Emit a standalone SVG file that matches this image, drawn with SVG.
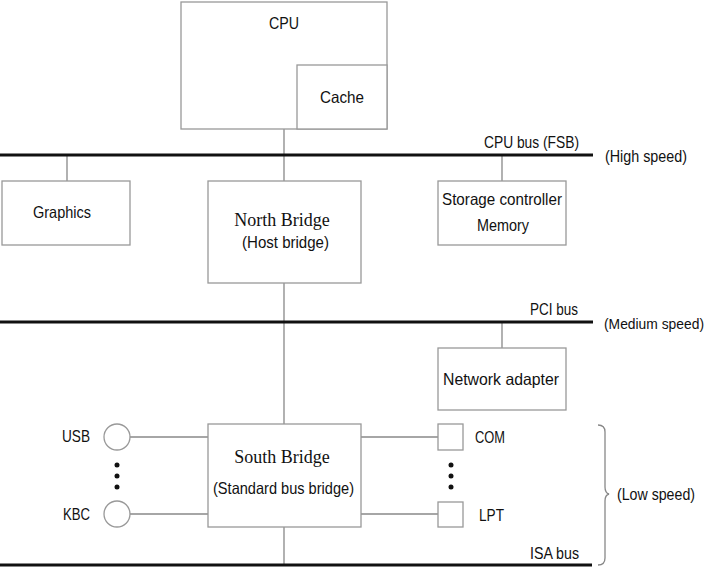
<svg xmlns="http://www.w3.org/2000/svg" width="710" height="569" viewBox="0 0 710 569">
<style>
.box{fill:#fff;stroke:#999;stroke-width:1.3}
.con{stroke:#888;stroke-width:1.3;fill:none}
.bus{stroke:#111;stroke-width:3;fill:none}
.t{font-family:"Liberation Sans",Arial,sans-serif;font-size:16.5px;fill:#111}
.s{font-family:"Liberation Serif","Times New Roman",serif;font-size:18px;fill:#111}
.m{text-anchor:middle}
.e{text-anchor:end}
</style>
<rect width="710" height="569" fill="#fff"/>
<g id="connectors">
<line class="con" x1="284" y1="129" x2="284" y2="181"/>
<line class="con" x1="67" y1="155" x2="67" y2="181"/>
<line class="con" x1="502" y1="155" x2="502" y2="181"/>
<line class="con" x1="284" y1="283" x2="284" y2="424"/>
<line class="con" x1="502" y1="322" x2="502" y2="348"/>
<line class="con" x1="284" y1="527" x2="284" y2="565"/>
<line class="con" x1="130" y1="437" x2="208" y2="437"/>
<line class="con" x1="130" y1="514" x2="208" y2="514"/>
<line class="con" x1="361" y1="437" x2="438" y2="437"/>
<line class="con" x1="361" y1="514" x2="438" y2="514"/>
</g>
<g id="buses">
<line class="bus" x1="0" y1="155" x2="593" y2="155"/>
<line class="bus" x1="0" y1="322" x2="593" y2="322"/>
<line class="bus" x1="0" y1="565" x2="592" y2="565"/>
<text class="t" x="484" y="148" textLength="95" lengthAdjust="spacingAndGlyphs">CPU bus (FSB)</text>
<text class="t" x="605" y="162" textLength="82" lengthAdjust="spacingAndGlyphs">(High speed)</text>
<text class="t" x="530" y="315" textLength="48" lengthAdjust="spacingAndGlyphs">PCI bus</text>
<text class="t" x="604" y="329" style="font-size:14.5px" textLength="100" lengthAdjust="spacingAndGlyphs">(Medium speed)</text>
<text class="t" x="530" y="559" textLength="49" lengthAdjust="spacingAndGlyphs">ISA bus</text>
</g>
<g id="cpu">
<rect class="box" x="181" y="2" width="206" height="127"/>
<text class="t" x="269" y="29" textLength="30" lengthAdjust="spacingAndGlyphs">CPU</text>
</g>
<g id="cache">
<rect class="box" x="297" y="65" width="90" height="64"/>
<text class="t" x="320" y="103" textLength="44" lengthAdjust="spacingAndGlyphs">Cache</text>
</g>
<g id="graphics">
<rect class="box" x="2" y="181" width="128" height="64"/>
<text class="t" x="33" y="218" textLength="58" lengthAdjust="spacingAndGlyphs">Graphics</text>
</g>
<g id="northbridge">
<rect class="box" x="208" y="181" width="153" height="102"/>
<text class="s m" x="282" y="226">North Bridge</text>
<text class="t" x="242" y="248" textLength="87" lengthAdjust="spacingAndGlyphs">(Host bridge)</text>
</g>
<g id="storage">
<rect class="box" x="438" y="181" width="128" height="64"/>
<text class="t" x="442" y="205" textLength="120" lengthAdjust="spacingAndGlyphs">Storage controller</text>
<text class="t" x="477" y="231" textLength="52" lengthAdjust="spacingAndGlyphs">Memory</text>
</g>
<g id="network">
<rect class="box" x="438" y="348" width="128" height="62"/>
<text class="t" x="443" y="385" textLength="116" lengthAdjust="spacingAndGlyphs">Network adapter</text>
</g>
<g id="southbridge">
<rect class="box" x="208" y="424" width="153" height="103"/>
<text class="s m" x="282" y="463">South Bridge</text>
<text class="t" x="213" y="494" textLength="141" lengthAdjust="spacingAndGlyphs">(Standard bus bridge)</text>
</g>
<g id="usb">
<circle class="box" cx="117" cy="437" r="13"/>
<text class="t" x="62" y="442" textLength="28" lengthAdjust="spacingAndGlyphs">USB</text>
</g>
<g id="kbc">
<circle class="box" cx="117" cy="514" r="13"/>
<text class="t" x="63" y="520" textLength="27" lengthAdjust="spacingAndGlyphs">KBC</text>
</g>
<g id="dots-left" fill="#111">
<circle cx="117" cy="465" r="2.5"/>
<circle cx="117" cy="476" r="2.5"/>
<circle cx="117" cy="487" r="2.5"/>
</g>
<g id="com">
<rect class="box" x="438" y="424" width="25" height="26"/>
<text class="t" x="475" y="443" textLength="30" lengthAdjust="spacingAndGlyphs">COM</text>
</g>
<g id="lpt">
<rect class="box" x="438" y="502" width="25" height="25"/>
<text class="t" x="479" y="521" textLength="25" lengthAdjust="spacingAndGlyphs">LPT</text>
</g>
<g id="dots-right" fill="#111">
<circle cx="451" cy="465" r="2.5"/>
<circle cx="451" cy="476" r="2.5"/>
<circle cx="451" cy="487" r="2.5"/>
</g>
<g id="lowspeed">
<path class="con" d="M598,425 Q605,425 605,432 L605,487 Q605,493 609,494 Q605,495 605,501 L605,558 Q605,565 598,565"/>
<text class="t" x="617" y="500" textLength="78" lengthAdjust="spacingAndGlyphs">(Low speed)</text>
</g>
</svg>
